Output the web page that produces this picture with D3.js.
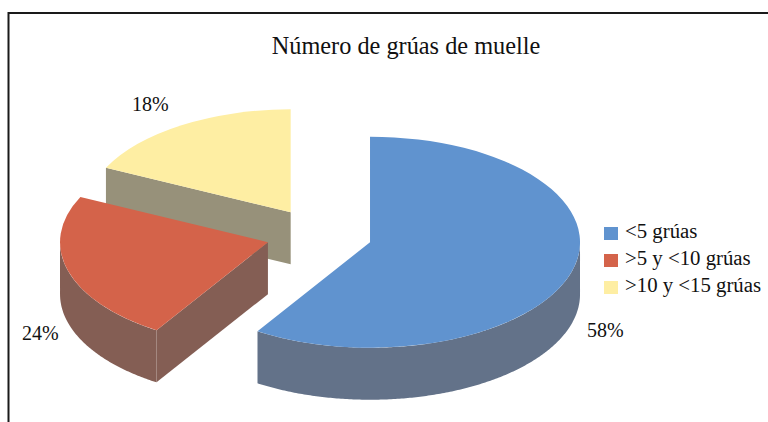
<!DOCTYPE html>
<html>
<head>
<meta charset="utf-8">
<script src="https://cdn.jsdelivr.net/npm/d3@7"></script>
<style>
  body { margin: 0; background: #fff; }
  svg { display: block; }
  text { font-family: "Liberation Serif", serif; fill: #111; }
</style>
</head>
<body>
<svg width="768" height="422"></svg>
<script>
const title = "Número de grúas de muelle";
const categories = ["<5 grúas", ">5 y <10 grúas", ">10 y <15 grúas"];
// printed on the chart
const percentLabels = ["58%", "24%", "18%"];
const sliceShares = [59.0, 23.1, 17.9];
const topColors = ["#6093cf", "#d4634a", "#feeea3"];
const sideColors = ["#637289", "#845e54", "#97917a"];
// slices further back come out a bit smaller in the perspective view
const sliceScale = [1, 0.99, 0.975];

const centerX = 319,
  centerY = 234.8,
  radiusX = 210,
  radiusY = 105.5,
  depth = 52,
  explode = 0.253;

const labelPos = [
  { x: 587, y: 337 },
  { x: 22, y: 340 },
  { x: 132, y: 111 },
];

let svg = d3.select("svg");

// chart frame, only the top and left edges fall inside the crop
svg
  .append("path")
  .attr("d", d3.line()([[769, 13], [8.5, 13], [8.5, 423]]))
  .attr("fill", "none")
  .attr("stroke", "#1a1a1a")
  .attr("stroke-width", 2);

svg
  .append("text")
  .attr("x", 406)
  .attr("y", 54)
  .attr("text-anchor", "middle")
  .attr("font-size", "24.3px")
  .text(title);

const slices = d3.pie().sort(null)(sliceShares);

const outline = d3
  .line()
  .x((d) => d[0])
  .y((d) => d[1]);

// point on the rim of a slice, a is clockwise from 12 o'clock
function rim(a, apex, k, drop) {
  return [
    apex.x + k * radiusX * Math.sin(a),
    apex.y - k * radiusY * Math.cos(a) + drop,
  ];
}

function apexOf(d) {
  const mid = (d.startAngle + d.endAngle) / 2;
  return {
    x: centerX + explode * radiusX * Math.sin(mid),
    y: centerY - explode * radiusY * Math.cos(mid),
  };
}

// yellow first: the red slice sits over its cut face
const drawOrder = [2, 0, 1];

drawOrder.forEach((i) => {
  const d = slices[i];
  const apex = apexOf(d);
  const k = sliceScale[i];
  const g = svg.append("g");

  // curved wall, only the part between 3 and 9 o'clock faces us
  const from = Math.max(d.startAngle, Math.PI / 2);
  const to = Math.min(d.endAngle, (3 * Math.PI) / 2);
  if (from < to) {
    const steps = d3.range(from, to, 0.01).concat(to);
    const front = steps.map((a) => rim(a, apex, k, 0));
    const back = steps.map((a) => rim(a, apex, k, depth)).reverse();
    g.append("path")
      .attr("d", outline(front.concat(back)) + "Z")
      .attr("fill", sideColors[i]);
  }

  // flat cut face along the leading edge, the blue one is turned away from us
  if (i !== 0) {
    const a = d.startAngle;
    g.append("path")
      .attr(
        "d",
        outline([
          [apex.x, apex.y],
          rim(a, apex, k, 0),
          rim(a, apex, k, depth),
          [apex.x, apex.y + depth],
        ]) + "Z"
      )
      .attr("fill", sideColors[i]);
  }

  const topArc = d3.arc().innerRadius(0).outerRadius(k * radiusX);
  g.append("path")
    .attr("d", topArc(d))
    .attr(
      "transform",
      `translate(${apex.x},${apex.y}) scale(1,${radiusY / radiusX})`
    )
    .attr("fill", topColors[i]);
});

percentLabels.forEach((t, i) => {
  svg
    .append("text")
    .attr("x", labelPos[i].x)
    .attr("y", labelPos[i].y)
    .attr("font-size", "20px")
    .text(t);
});

const legendY = d3
  .scalePoint()
  .domain(categories)
  .range([233.5, 287.5]);

categories.forEach((c, i) => {
  svg
    .append("rect")
    .attr("x", 604)
    .attr("y", legendY(c) - 6.5)
    .attr("width", 14)
    .attr("height", 13)
    .attr("fill", topColors[i]);
  svg
    .append("text")
    .attr("x", 625)
    .attr("y", legendY(c) + 4)
    .attr("font-size", "20.8px")
    .text(c);
});
</script>
</body>
</html>
